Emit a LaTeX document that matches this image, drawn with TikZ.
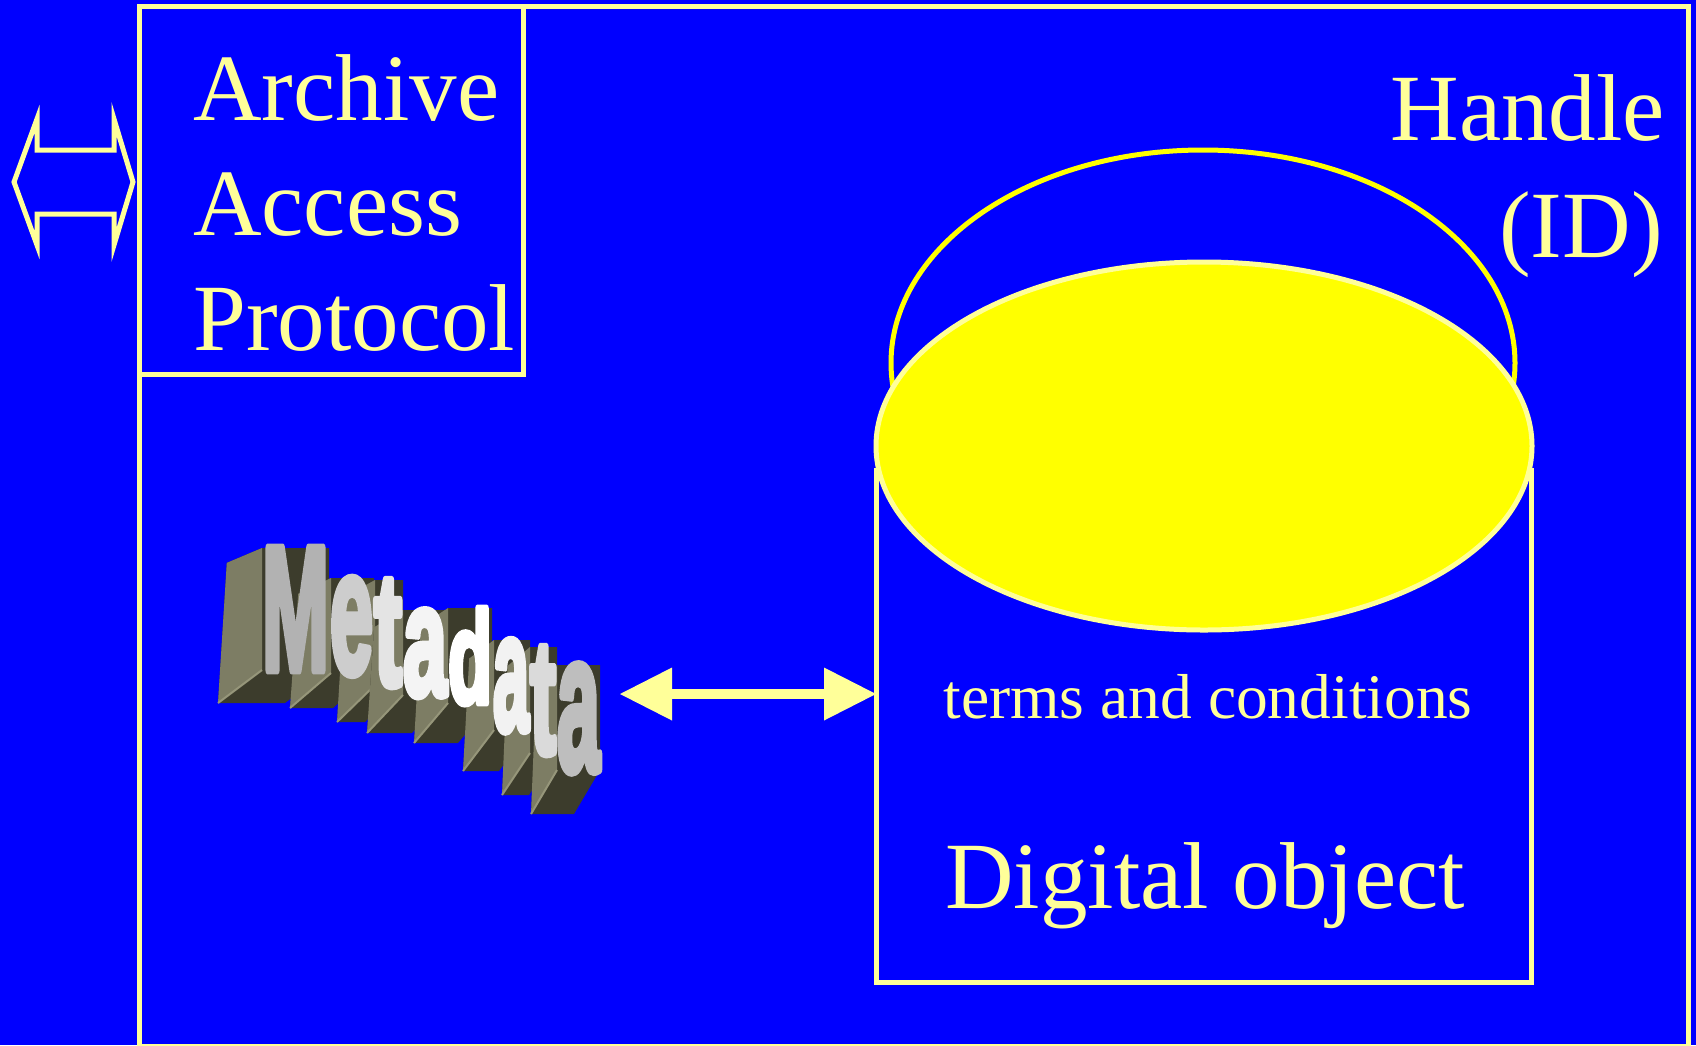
\documentclass[tikz,border=0pt]{standalone}
\usepackage{fontspec}
\setmainfont{Liberation Serif}
\newfontfamily\metafont{Liberation Sans}[BoldFeatures={FakeBold=5}]
\usepackage{graphicx}
\usetikzlibrary{arrows.meta}
\definecolor{bgblue}{RGB}{0,0,255}
\definecolor{ly}{RGB}{255,255,153}
\definecolor{yy}{RGB}{255,255,0}
\definecolor{exdark}{RGB}{60,60,44}
\definecolor{exmid}{RGB}{125,125,100}
\definecolor{exlight}{RGB}{150,150,122}
\definecolor{fa}{RGB}{178,178,178}
\definecolor{fb}{RGB}{205,205,205}
\definecolor{fc}{RGB}{228,228,228}
\definecolor{fd}{RGB}{244,244,244}
\definecolor{fe}{RGB}{255,255,255}
\definecolor{ff}{RGB}{242,242,242}
\definecolor{fg}{RGB}{218,218,218}
\definecolor{fh}{RGB}{190,190,190}
% one letter of the word: dx, dy, width, height, letter, colour
\newcommand\mLet[6]{\rlap{\hspace*{#1pt}\raisebox{-#2pt}{\textcolor{#6}{\resizebox{#3pt}{#4pt}{#5}}}}}
\newcommand\metaWord[8]{{\metafont\bfseries\fontsize{170}{170}\selectfont
  \mLet{0}{0}{67}{122}{M}{#1}%
  \mLet{68}{3}{43}{95}{e}{#2}%
  \mLet{112}{15}{28}{105}{t}{#3}%
  \mLet{141}{25}{44}{85}{a}{#4}%
  \mLet{186}{33}{44}{95}{d}{#5}%
  \mLet{231}{60}{36}{90}{a}{#6}%
  \mLet{268}{83}{26}{106}{t}{#7}%
  \mLet{295}{100}{43}{105}{a}{#8}%
  \hspace*{340pt}}}
\begin{document}
\begin{tikzpicture}[x=1pt,y=-1pt,
  frame/.style={draw=ly,line width=5pt,inner sep=0pt,outer sep=0pt,anchor=north west},
  bigtext/.style={text=ly,inner sep=0pt,font=\fontsize{95}{117}\selectfont},
  smalltext/.style={text=ly,inner sep=0pt,font=\fontsize{63.5}{76}\selectfont},
  metastyle/.style={inner sep=0pt,outer sep=0pt,anchor=base west,line join=round}]
\useasboundingbox (0,0) rectangle (1696,1045);
\fill[bgblue] (0,0) rectangle (1696,1045);
\clip (0,0) rectangle (1696,1045);

% outer frame and archive access protocol box
\node[frame,minimum width=1549pt,minimum height=1040pt] (outer) at (139,6) {};
\node[frame,minimum width=384pt,minimum height=368pt] (apbox) at (139,6) {};
\node[bigtext,anchor=base west] (ap1) at (193,120) {Archive};
\node[bigtext,anchor=base west] (ap2) at (193,235) {Access};
\node[bigtext,anchor=base west] (ap3) at (193,350) {Protocol};

% outlined double arrow on the left
\draw[ly,line width=5pt,line join=miter]
  (14,182) -- (37,119) -- (37,150) -- (114,150) -- (114,119) -- (133,182)
  -- (114,245) -- (114,214) -- (37,214) -- (37,245) -- cycle;

% handle text
\node[bigtext,anchor=base east] (h1) at (1665,140) {Handle};
\node[bigtext,anchor=base east] (h2) at (1663,257) {(ID)};

% handle ellipse, digital object box, yellow disc
\draw[yy,line width=5pt] (1203,363) ellipse [x radius=312, y radius=213];
\node[frame,minimum width=655pt,minimum height=512pt] (dobj) at (876,470) {};
\draw[draw=ly,fill=yy,line width=5pt] (1204,446) ellipse [x radius=328, y radius=184];
\node[smalltext,anchor=base] (tc) at (1208,718) {terms and conditions};
\node[bigtext,anchor=base] (dig) at (1205,908) {Digital object};

% 3D word "Metadata": extruded blocks (perspective), then the front face
\foreach \xa/\xb/\yt/\yb/\dx/\dy in {262/329/548/670/-44/33, 331/374/578/673/-41/35,
    375/403/580/685/-38/37, 403/448/610/695/-36/38, 448/492/608/703/-34/40,
    494/530/640/730/-31/41, 530/557/647/753/-28/42, 557/600/665/770/-26/44}{
  \fill[exdark] (\xa,\yt) -- (\xb,\yt) -- (\xb,\yb) -- (\xb+\dx,\yb+\dy)
    -- (\xa+\dx,\yb+\dy) -- (\xa+0.8*\dx,\yt+0.45*\dy) -- cycle;
  \fill[exmid] (\xa,\yt) -- (\xa,\yb) -- (\xa+\dx,\yb+\dy) -- (\xa+0.8*\dx,\yt+0.45*\dy) -- cycle;
  \draw[exlight,line width=2pt] (\xa,\yb) -- (\xa+\dx,\yb+\dy);
}
\begin{scope}[line join=round]
\node[metastyle] (meta) at (262,670) {\metaWord{fa}{fb}{fc}{fd}{fe}{ff}{fg}{fh}};
\end{scope}

% double arrow between metadata and digital object
\coordinate (metaR) at (620,694);
\draw[ly,line width=10pt,
  {Triangle[length=52pt,width=53pt,line width=0pt]}-{Triangle[length=52pt,width=53pt,line width=0pt]}]
  (metaR) -- (dobj.west |- metaR);
\end{tikzpicture}
\end{document}
